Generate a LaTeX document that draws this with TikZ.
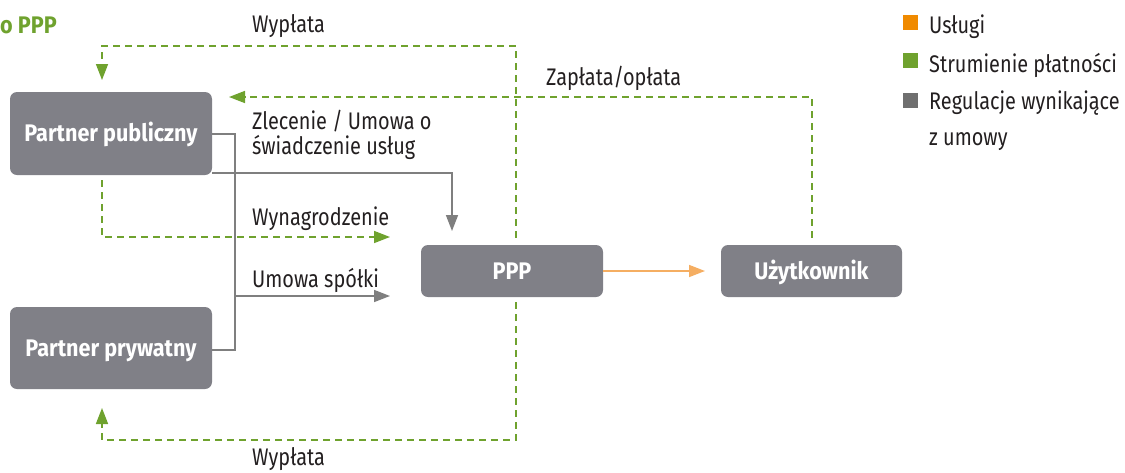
\documentclass[tikz,border=0pt]{standalone}
\usepackage{fontspec}
\setmainfont{Fira Sans}[FakeStretch=0.83]
\newfontfamily\boxfont{Fira Sans}[FakeStretch=0.9]
\usetikzlibrary{arrows.meta,calc}
\definecolor{boxgrey}{HTML}{808087}
\definecolor{linegrey}{HTML}{7F7F7F}
\definecolor{paygreen}{HTML}{6FA22E}
\definecolor{servorange}{HTML}{F5AE62}
\definecolor{legorange}{HTML}{F08A00}
\definecolor{leggrey}{HTML}{6F6F6F}
\definecolor{txt}{HTML}{231F20}
\tikzset{
  x=1pt,y=-1pt,
  box/.style={fill=boxgrey,rounded corners=7pt,text=white,font=\fontsize{24}{28}\boxfont\bfseries,inner sep=0pt,text height=16.5pt,text depth=0pt},
  lbl/.style={font=\fontsize{24}{25}\selectfont,text=txt,inner sep=0pt},
  tip/.style={-{Triangle[length=16pt,width=12pt]}},
  pay/.style={draw=paygreen,line width=1.6pt,dash pattern=on 7pt off 5pt,tip},
  reg/.style={draw=linegrey,line width=1.6pt,tip},
  regplain/.style={draw=linegrey,line width=1.6pt},
  serv/.style={draw=servorange,line width=1.6pt,tip},
  legsq/.style={minimum size=15pt,inner sep=0pt},
}
\begin{document}
\begin{tikzpicture}
\useasboundingbox (0,0) rectangle (1125,472);
% boxes
\node[box,minimum width=202pt,minimum height=83pt] (pub) at (111,133.5) {Partner publiczny};
\node[box,minimum width=202pt,minimum height=82pt] (priv) at (111,348) {Partner prywatny};
\node[box,minimum width=182pt,minimum height=52pt] (ppp) at (512,271) {PPP};
\node[box,minimum width=181pt,minimum height=52pt] (user) at (811.5,271) {Użytkownik};
% title
\node[anchor=base west,text=paygreen,font=\fontsize{24}{28}\boxfont\bfseries,inner sep=0pt] (title) at (0,33) {o PPP};
% labels
\node[lbl,anchor=base west] (wtop) at (252,32) {Wypłata};
\node[lbl,anchor=base west] (wbot) at (252,465) {Wypłata};
\node[lbl,anchor=base west] (zap) at (546,85) {Zapłata/opłata};
\node[lbl,anchor=base west] (wyn) at (252,225) {Wynagrodzenie};
\node[lbl,anchor=base west] (ums) at (252,287) {Umowa spółki};
\node[lbl,anchor=base west] (zlec1) at (252,129) {Zlecenie / Umowa o};
\node[lbl,anchor=base west] (zlec2) at (252,154) {świadczenie usług};
% coordinates
\coordinate (topR) at (516,46);
\coordinate (topL) at (102,46);
\coordinate (botR) at (516,440);
\coordinate (botL) at (102,440);
\coordinate (pubIn) at (102,80);
\coordinate (privIn) at (102,408);
\coordinate (zapT) at (812,97);
\coordinate (zapEnd) at (229,97);
\coordinate (wynS) at (102,180);
\coordinate (wynC) at (102,237);
\coordinate (wynEnd) at (390,237);
\coordinate (zlC) at (452,173);
\coordinate (zlEnd) at (452,231);
\coordinate (brT) at (235,134);
\coordinate (brB) at (235,350);
\coordinate (brM) at (235,296);
\coordinate (umEnd) at (390,296);
\coordinate (servEnd) at (705,271);
% payment flows
\draw[pay,shorten <=7pt] (ppp.north -| topR) -- (topR) -- (topL) -- (pubIn);
\draw[pay,shorten <=5pt] (ppp.south -| botR) -- (botR) -- (botL) -- (privIn);
\draw[pay,shorten <=7pt] (user.north -| zapT) -- (zapT) -- (zapEnd);
\draw[pay] (wynS) -- (wynC) -- (wynEnd);
% regulations
\draw[reg] (pub.east |- zlC) -- (zlC) -- (zlEnd);
\draw[regplain] (pub.east |- brT) -- (brT) -- (brB) -- (priv.east |- brB);
\draw[reg] (brM) -- (umEnd);
% service
\draw[serv] (ppp.east) -- (servEnd);
% legend
\node[legsq,fill=legorange] (l1) at (910.5,22.5) {};
\node[legsq,fill=paygreen] (l2) at (910.5,60.5) {};
\node[legsq,fill=leggrey] (l3) at (910.5,100.5) {};
\node[lbl,anchor=base west] (t1) at (929,33) {Usługi};
\node[lbl,anchor=base west] (t2) at (929,72) {Strumienie płatności};
\node[lbl,anchor=base west] (t3) at (929,109) {Regulacje wynikające};
\node[lbl,anchor=base west] (t4) at (929,145) {z umowy};
\end{tikzpicture}
\end{document}
